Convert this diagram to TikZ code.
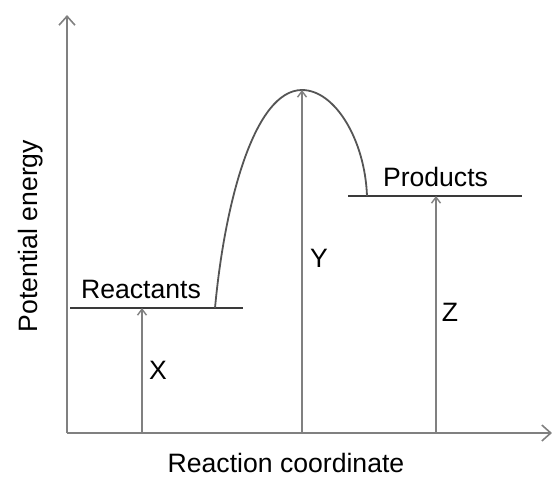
\documentclass[tikz,border=0pt]{standalone}
\usepackage{fontspec}
\setmainfont{Liberation Sans}
\usetikzlibrary{arrows.meta}
\definecolor{axisgray}{HTML}{808080}
\definecolor{levelgray}{HTML}{3A3A3A}
\definecolor{curvegray}{HTML}{555555}
\begin{document}
\begin{tikzpicture}[x=1pt,y=-1pt,
  axisline/.style={draw=axisgray,line width=1.6pt,-{Straight Barb[length=9pt,width=16pt,line width=1.6pt]}},
  levelline/.style={draw=levelgray,line width=2pt},
  curveline/.style={draw=curvegray,line width=1.8pt},
  gaparrow/.style={draw=axisgray,line width=1.6pt,-{Straight Barb[length=6pt,width=9pt,line width=1.4pt]}},
  lbl/.style={inner sep=0pt,font=\fontsize{26.6}{30}\selectfont,text=black}]
\useasboundingbox (0,0) rectangle (552,477);
% axes
\coordinate (O) at (67,433);
\coordinate (ytop) at (67,15);
\coordinate (xend) at (552,433);
\draw[axisline] (O) -- (ytop);
\draw[axisline] (O) -- (xend);
% levels
\coordinate (rL) at (70,308);
\coordinate (rR) at (243,308);
\coordinate (pL) at (348,196);
\coordinate (pR) at (522,196);
\draw[levelline] (rL) -- (rR);
\draw[levelline] (pL) -- (pR);
% curve
\coordinate (cs) at (215,308);
\coordinate (peak) at (302,90);
\coordinate (ce) at (367,196);
\draw[curveline] (cs) .. controls (225,200) and (255,90) .. (peak)
                      .. controls (335,90) and (365,140) .. (ce);
% gap arrows
\coordinate (xb) at (142,433);
\coordinate (xt) at (142,308);
\coordinate (yb) at (302,433);
\coordinate (zb) at (436,433);
\coordinate (zt) at (436,196);
\draw[gaparrow] (xb) -- (xt);
\draw[gaparrow] (yb) -- (peak);
\draw[gaparrow] (zb) -- (zt);
% labels
\node[lbl,anchor=base] (reac) at (141,298) {Reactants};
\node[lbl,anchor=base] (prod) at (435.5,186) {Products};
\node[lbl,anchor=base] (xlab) at (286,472) {Reaction coordinate};
\node[lbl,anchor=base,rotate=90] (ylab) at (37,236) {Potential energy};
\node[lbl] (Xl) at (158,370) {X};
\node[lbl] (Yl) at (319,258) {Y};
\node[lbl] (Zl) at (450,312) {Z};
\end{tikzpicture}
\end{document}
